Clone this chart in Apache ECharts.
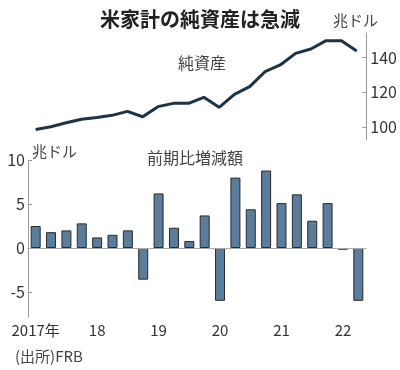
<!DOCTYPE html>
<html><head><meta charset="utf-8">
<script src="https://cdn.jsdelivr.net/npm/echarts@6/dist/echarts.min.js"></script>
<style>html,body{margin:0;padding:0;background:#fff}#c{width:400px;height:370px}</style>
</head><body><div id="c"></div>
<script>
const quarters = ['2017Q1','2017Q2','2017Q3','2017Q4','2018Q1','2018Q2','2018Q3','2018Q4','2019Q1','2019Q2','2019Q3','2019Q4','2020Q1','2020Q2','2020Q3','2020Q4','2021Q1','2021Q2','2021Q3','2021Q4','2022Q1','2022Q2'];
const netWorth = [98.7,100.2,102.5,104.5,105.6,106.8,109.1,106.0,111.8,113.7,113.7,117.2,111.4,118.9,123.3,131.9,135.8,142.5,145.0,149.8,149.8,143.9];
const change = [2.5,1.8,2.0,2.8,1.2,1.5,2.0,-3.6,6.2,2.3,0.8,3.7,-6.0,8.0,4.4,8.8,5.1,6.1,3.1,5.1,-0.2,-6.0];
const yearLabels = {'2017Q1':'2017年','2018Q1':'18','2019Q1':'19','2020Q1':'20','2021Q1':'21','2022Q1':'22'};
const topTicks = [100,120,140];
const bottomTicks = [-5,0,5,10];

const numFont = "'Liberation Sans Narrow','Noto Sans CJK JP',sans-serif";
const jpFont = "'Noto Sans CJK JP',sans-serif";
const chart = echarts.init(document.getElementById('c'));
chart.setOption({
  animation: false,
  title: {text: '米家計の純資産は急減', left: 'center', top: 4,
    textStyle: {fontFamily: jpFont, fontSize: 20, fontWeight: 'bold', color: '#222'}},
  graphic: [
    {type: 'text', left: 333, top: 13, style: {text: '兆ドル', font: '15px ' + jpFont, fill: '#444'}},
    {type: 'text', left: 178, top: 55, style: {text: '純資産', font: '16px ' + jpFont, fill: '#444'}},
    {type: 'text', left: 32, top: 144, style: {text: '兆ドル', font: '15px ' + jpFont, fill: '#444'}},
    {type: 'text', left: 147, top: 150, style: {text: '前期比増減額', font: '16px ' + jpFont, fill: '#444'}},
    {type: 'text', left: 15, top: 349, style: {text: '(出所)FRB', font: '15px ' + jpFont, fill: '#444'}}
  ],
  grid: [
    {left: 28, right: 34, top: 33, height: 107},
    {left: 28, right: 34, top: 160, height: 157}
  ],
  xAxis: [
    {gridIndex: 0, type: 'category', data: quarters, show: false},
    {gridIndex: 1, type: 'category', data: quarters,
      axisLine: {lineStyle: {color: '#999', width: 1}},
      axisTick: {inside: true, length: 4, alignWithLabel: true, interval: (i) => i % 4 === 0, lineStyle: {color: '#999'}},
      axisLabel: {interval: (i) => i % 4 === 0, formatter: (v) => yearLabels[v] || '', fontFamily: numFont, fontSize: 15, color: '#333', margin: 6}}
  ],
  yAxis: [
    {gridIndex: 0, type: 'value', position: 'right', offset: 2, min: 92.6, max: 154.2,
      axisLine: {show: true, lineStyle: {color: '#999'}},
      axisTick: {show: true, inside: true, length: 4, customValues: topTicks, lineStyle: {color: '#999'}},
      axisLabel: {customValues: topTicks, fontFamily: numFont, fontSize: 16, color: '#333', margin: 4},
      splitLine: {show: false}},
    {gridIndex: 1, type: 'value', min: -7.84, max: 10,
      axisLine: {show: true, lineStyle: {color: '#999'}},
      axisTick: {show: true, inside: true, length: 4, customValues: bottomTicks, lineStyle: {color: '#999'}},
      axisLabel: {customValues: bottomTicks, fontFamily: numFont, fontSize: 16, color: '#333', margin: 3},
      splitLine: {show: false}}
  ],
  series: [
    {type: 'line', xAxisIndex: 0, yAxisIndex: 0, data: netWorth, symbol: 'none',
      lineStyle: {color: '#1c3346', width: 3}},
    {type: 'bar', xAxisIndex: 1, yAxisIndex: 1, data: change, barWidth: 10,
      itemStyle: {color: '#5b7d9c', borderColor: '#2a2a2a', borderWidth: 1},
      markLine: {silent: true, symbol: 'none', label: {show: false},
        lineStyle: {color: '#aaa', width: 1, type: 'solid'}, data: [{yAxis: 0}]}}
  ]
});
</script></body></html>
